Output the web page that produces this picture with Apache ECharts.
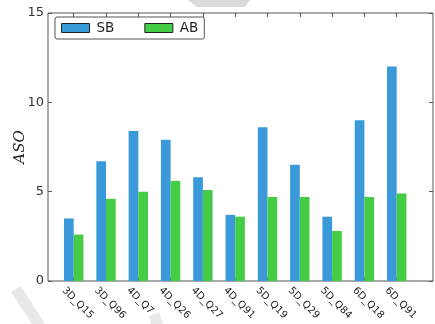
<!DOCTYPE html>
<html>
<head>
<meta charset="utf-8">
<script src="https://cdn.jsdelivr.net/npm/echarts@6/dist/echarts.min.js"></script>
<style>
  html, body { margin: 0; padding: 0; background: #fff; }
  #chart { width: 435px; height: 324px; }
</style>
</head>
<body>
<div id="chart"></div>
<script>
// Query names along the x axis
var queries = ['3D_Q15', '3D_Q96', '4D_Q7', '4D_Q26', '4D_Q27', '4D_Q91',
               '5D_Q19', '5D_Q29', '5D_Q84', '6D_Q18', '6D_Q91'];
// ASO per query for the two methods
var sbValues = [3.5, 6.7, 8.4, 7.9, 5.8, 3.7, 8.6, 6.5, 3.6, 9.0, 12.0];
var abValues = [2.6, 4.6, 5.0, 5.6, 5.1, 3.6, 4.7, 4.7, 2.8, 4.7, 4.9];
// y axis ticks
var yTicks = [0, 5, 10, 15];

var positions = queries.map(function (_, i) { return i; });
var labelShift = 0.31; // labels start slightly left of their tick

var chart = echarts.init(document.getElementById('chart'), null, { renderer: 'canvas' });

var frameColor = '#555';
var tickStyle = { show: true, inside: true, length: 4, lineStyle: { color: frameColor, width: 1 } };
var hiddenLine = { show: false, onZero: false };

chart.setOption({
  animation: false,
  backgroundColor: '#fff',
  grid: {
    left: 48, right: 2, top: 13, bottom: 43,
    outerBoundsMode: 'none', containLabel: false,
    show: true, borderColor: frameColor, borderWidth: 1, backgroundColor: 'transparent'
  },
  graphic: [
    { type: 'polygon', silent: true, z: -10,
      shape: { points: [[188, 0], [250, 0], [245, 7], [197, 7]] },
      style: { fill: '#dadada' } },
    { type: 'polygon', silent: true, z: -10,
      shape: { points: [[11, 292], [21, 286], [45, 324], [32, 324]] },
      style: { fill: '#e8e8e8' } },
    { type: 'polygon', silent: true, z: -10,
      shape: { points: [[149, 316], [159, 312], [163, 324], [151, 324]] },
      style: { fill: '#e8e8e8' } }
  ],
  legend: {
    left: 55, top: 17,
    orient: 'horizontal',
    itemWidth: 28, itemHeight: 9, itemGap: 30,
    padding: [4, 6, 4, 6],
    backgroundColor: '#fff',
    borderColor: '#555', borderWidth: 1, borderRadius: 2,
    textStyle: { fontFamily: 'DejaVu Sans', fontSize: 13.5, color: '#222', padding: [0, 0, 0, 2] },
    itemStyle: { borderColor: '#222', borderWidth: 1 },
    icon: 'rect',
    data: ['SB', 'AB']
  },
  xAxis: [
    {
      type: 'value', position: 'bottom',
      min: -0.796, max: 11.124,
      splitLine: { show: false },
      axisLine: hiddenLine,
      axisTick: Object.assign({ customValues: positions }, tickStyle),
      axisLabel: {
        customValues: positions.map(function (p) { return p - labelShift; }),
        formatter: function (v) { return queries[Math.round(v + labelShift)]; },
        rotate: -45, margin: 8,
        fontFamily: 'DejaVu Sans', fontSize: 10, color: '#222'
      }
    },
    {
      type: 'value', position: 'top',
      min: -0.796, max: 11.124,
      splitLine: { show: false },
      axisLine: hiddenLine,
      axisTick: Object.assign({ customValues: positions }, tickStyle),
      axisLabel: { show: false }
    }
  ],
  yAxis: [
    {
      type: 'value', position: 'left',
      min: 0, max: 15, interval: 5,
      name: 'ASO', nameLocation: 'middle', nameRotate: 90, nameGap: 20,
      nameMoveOverlap: false,
      nameTextStyle: { fontFamily: 'DejaVu Serif', fontStyle: 'italic', fontSize: 15, color: '#222' },
      splitLine: { show: false },
      axisLine: hiddenLine,
      axisTick: Object.assign({ customValues: yTicks }, tickStyle),
      axisLabel: { customValues: yTicks, margin: 4, fontFamily: 'DejaVu Sans', fontSize: 13, color: '#333' }
    },
    {
      type: 'value', position: 'right',
      min: 0, max: 15, interval: 5,
      splitLine: { show: false },
      axisLine: hiddenLine,
      axisTick: Object.assign({ customValues: yTicks }, tickStyle),
      axisLabel: { show: false }
    }
  ],
  series: [
    {
      name: 'SB', type: 'bar', xAxisIndex: 0, yAxisIndex: 0,
      barWidth: 9.69, barGap: '0%',
      itemStyle: { color: '#3a9ad9' },
      data: sbValues.map(function (v, i) { return [positions[i], v]; })
    },
    {
      name: 'AB', type: 'bar', xAxisIndex: 0, yAxisIndex: 0,
      barWidth: 9.69, barGap: '0%',
      itemStyle: { color: '#44cc44' },
      data: abValues.map(function (v, i) { return [positions[i], v]; })
    }
  ]
});
</script>
</body>
</html>
